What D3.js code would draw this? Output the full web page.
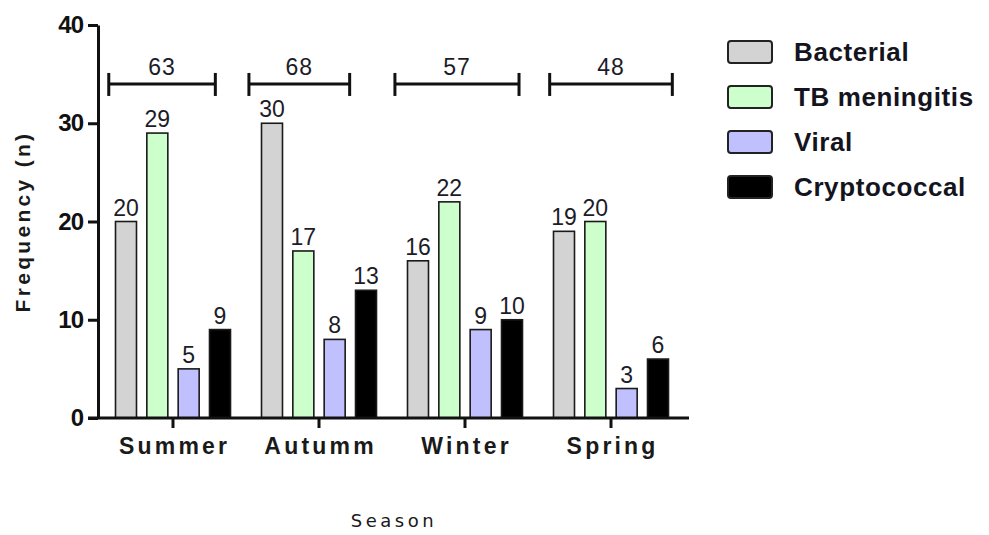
<!DOCTYPE html>
<html>
<head>
<meta charset="utf-8">
<script src="https://cdn.jsdelivr.net/npm/d3@7"></script>
<style>
  body { margin: 0; background: white; }
  text { font-family: "Liberation Sans", Arial, sans-serif; }
</style>
</head>
<body>
<div id="plot"></div>
<script>
// data
const seasons = ["Summer", "Autumm", "Winter", "Spring"];
const series = ["Bacterial", "TB meningitis", "Viral", "Cryptococcal"];
const bacterial = [20, 30, 16, 19];
const tbMeningitis = [29, 17, 22, 20];
const viral = [5, 8, 9, 3];
const cryptococcal = [9, 13, 10, 6];
const totals = [63, 68, 57, 48];
// bracket extent, in season units (0 = first season centre)
const bracketStart = [-0.44, 0.52, 1.52, 2.58];
const bracketEnd = [0.29, 1.21, 2.37, 3.42];
const bracketLevel = 34;
const yTicks = [0, 10, 20, 30, 40];

const colors = ["#d3d3d3", "#ccffcc", "#c0c0ff", "#000000"];

const w = 989;
const h = 535;
const margin = {top: 25, left: 98, bottom: 117, right: 305};

const svg = d3.select("div#plot")
      .append("svg")
      .attr("width", w)
      .attr("height", h);

svg.append("rect")
      .attr("width", w)
      .attr("height", h)
      .attr("fill", "white");

const values = [bacterial, tbMeningitis, viral, cryptococcal];
const rows = seasons.map((s, i) => ({season: s, vals: series.map((k, j) => ({key: k, j: j, v: values[j][i]}))}));

const x0 = d3.scaleBand()
      .domain(seasons)
      .range([margin.left + 2, w - margin.right]);

const x1 = d3.scaleBand()
      .domain(series)
      .range([-57.5, 57.5])
      .paddingInner(0.33);

const xPos = d3.scaleLinear()
      .domain([-0.5, seasons.length - 0.5])
      .range(x0.range());

const y = d3.scaleLinear()
      .domain([0, 40])
      .range([h - margin.bottom, margin.top]);

// bars
const groups = svg.selectAll(".grp")
      .data(rows)
      .enter()
      .append("g")
      .attr("class", "grp")
      .attr("transform", d => `translate(${x0(d.season) + x0.bandwidth() / 2},0)`);

groups.selectAll("rect")
      .data(d => d.vals)
      .enter()
      .append("rect")
      .attr("x", d => x1(d.key))
      .attr("y", d => y(d.v))
      .attr("width", x1.bandwidth())
      .attr("height", d => y(0) - y(d.v))
      .attr("fill", d => colors[d.j])
      .attr("stroke", "#1a1a1a")
      .attr("stroke-width", 1.6);

groups.selectAll(".val")
      .data(d => d.vals)
      .enter()
      .append("text")
      .attr("class", "val")
      .attr("x", d => x1(d.key) + x1.bandwidth() / 2)
      .attr("y", d => y(d.v) - 6)
      .attr("text-anchor", "middle")
      .attr("font-size", 23)
      .attr("fill", "#1c1c28")
      .text(d => d.v);

// y axis
const yAxis = svg.append("g")
      .attr("transform", `translate(${margin.left},0)`)
      .call(d3.axisLeft(y).tickValues(yTicks).tickSize(10).tickSizeOuter(0).tickPadding(5));
yAxis.selectAll("path, line").attr("stroke", "#111").attr("stroke-width", 3);
yAxis.selectAll("text")
      .attr("font-size", 24)
      .attr("font-weight", "bold")
      .attr("fill", "#111")
      .attr("letter-spacing", -1);

// x axis
const xAxis = svg.append("g")
      .attr("transform", `translate(0,${y(0)})`)
      .call(d3.axisBottom(x0).tickSize(10).tickSizeOuter(0).tickPadding(10));
xAxis.select(".domain").remove();
xAxis.append("line")
      .attr("x1", margin.left - 10)
      .attr("x2", x0.range()[1] + 5)
      .attr("stroke", "#111")
      .attr("stroke-width", 3);
xAxis.selectAll("line").attr("stroke", "#111").attr("stroke-width", 3);
xAxis.selectAll(".tick text")
      .attr("font-size", 23)
      .attr("font-weight", "bold")
      .attr("fill", "#1a1a1a")
      .attr("letter-spacing", 3.2)
      .attr("dx", 1.6);

// axis titles
svg.append("text")
      .attr("transform", `translate(22,${(y(0) + y(40)) / 2}) rotate(-90)`)
      .attr("text-anchor", "middle")
      .attr("dominant-baseline", "central")
      .attr("font-size", 21)
      .attr("font-weight", "bold")
      .attr("letter-spacing", 3.3)
      .attr("fill", "#1a1a1a")
      .text("Frequency (n)");

svg.append("text")
      .attr("x", 394)
      .attr("y", 527)
      .attr("text-anchor", "middle")
      .attr("font-family", "DejaVu Sans")
      .style("font-family", "'DejaVu Sans', sans-serif")
      .attr("font-size", 18)
      .attr("letter-spacing", 3.5)
      .attr("fill", "#1a1a1a")
      .text("Season");

// total brackets
const br = svg.selectAll(".br")
      .data(totals)
      .enter()
      .append("g")
      .attr("class", "br");
br.append("line")
      .attr("x1", (d, i) => xPos(bracketStart[i]))
      .attr("x2", (d, i) => xPos(bracketEnd[i]))
      .attr("y1", y(bracketLevel))
      .attr("y2", y(bracketLevel));
br.append("line")
      .attr("x1", (d, i) => xPos(bracketStart[i]))
      .attr("x2", (d, i) => xPos(bracketStart[i]))
      .attr("y1", y(bracketLevel) - 11)
      .attr("y2", y(bracketLevel) + 12);
br.append("line")
      .attr("x1", (d, i) => xPos(bracketEnd[i]))
      .attr("x2", (d, i) => xPos(bracketEnd[i]))
      .attr("y1", y(bracketLevel) - 11)
      .attr("y2", y(bracketLevel) + 12);
br.selectAll("line").attr("stroke", "#111").attr("stroke-width", 3);
br.append("text")
      .attr("x", (d, i) => xPos((bracketStart[i] + bracketEnd[i]) / 2))
      .attr("y", y(bracketLevel) - 9)
      .attr("text-anchor", "middle")
      .attr("font-size", 23)
      .attr("letter-spacing", 1)
      .attr("fill", "#1c1c28")
      .text(d => d);

// legend
const legend = svg.selectAll(".leg")
      .data(series)
      .enter()
      .append("g")
      .attr("class", "leg")
      .attr("transform", (d, i) => `translate(728,${41 + i * 45})`);
legend.append("rect")
      .attr("width", 44)
      .attr("height", 22)
      .attr("rx", 3)
      .attr("fill", (d, i) => colors[i])
      .attr("stroke", "#222")
      .attr("stroke-width", 2);
legend.append("text")
      .attr("x", 66)
      .attr("y", 20)
      .attr("font-size", 26)
      .attr("font-weight", "bold")
      .attr("letter-spacing", 0.6)
      .attr("fill", "#141420")
      .text(d => d);
</script>
</body>
</html>
